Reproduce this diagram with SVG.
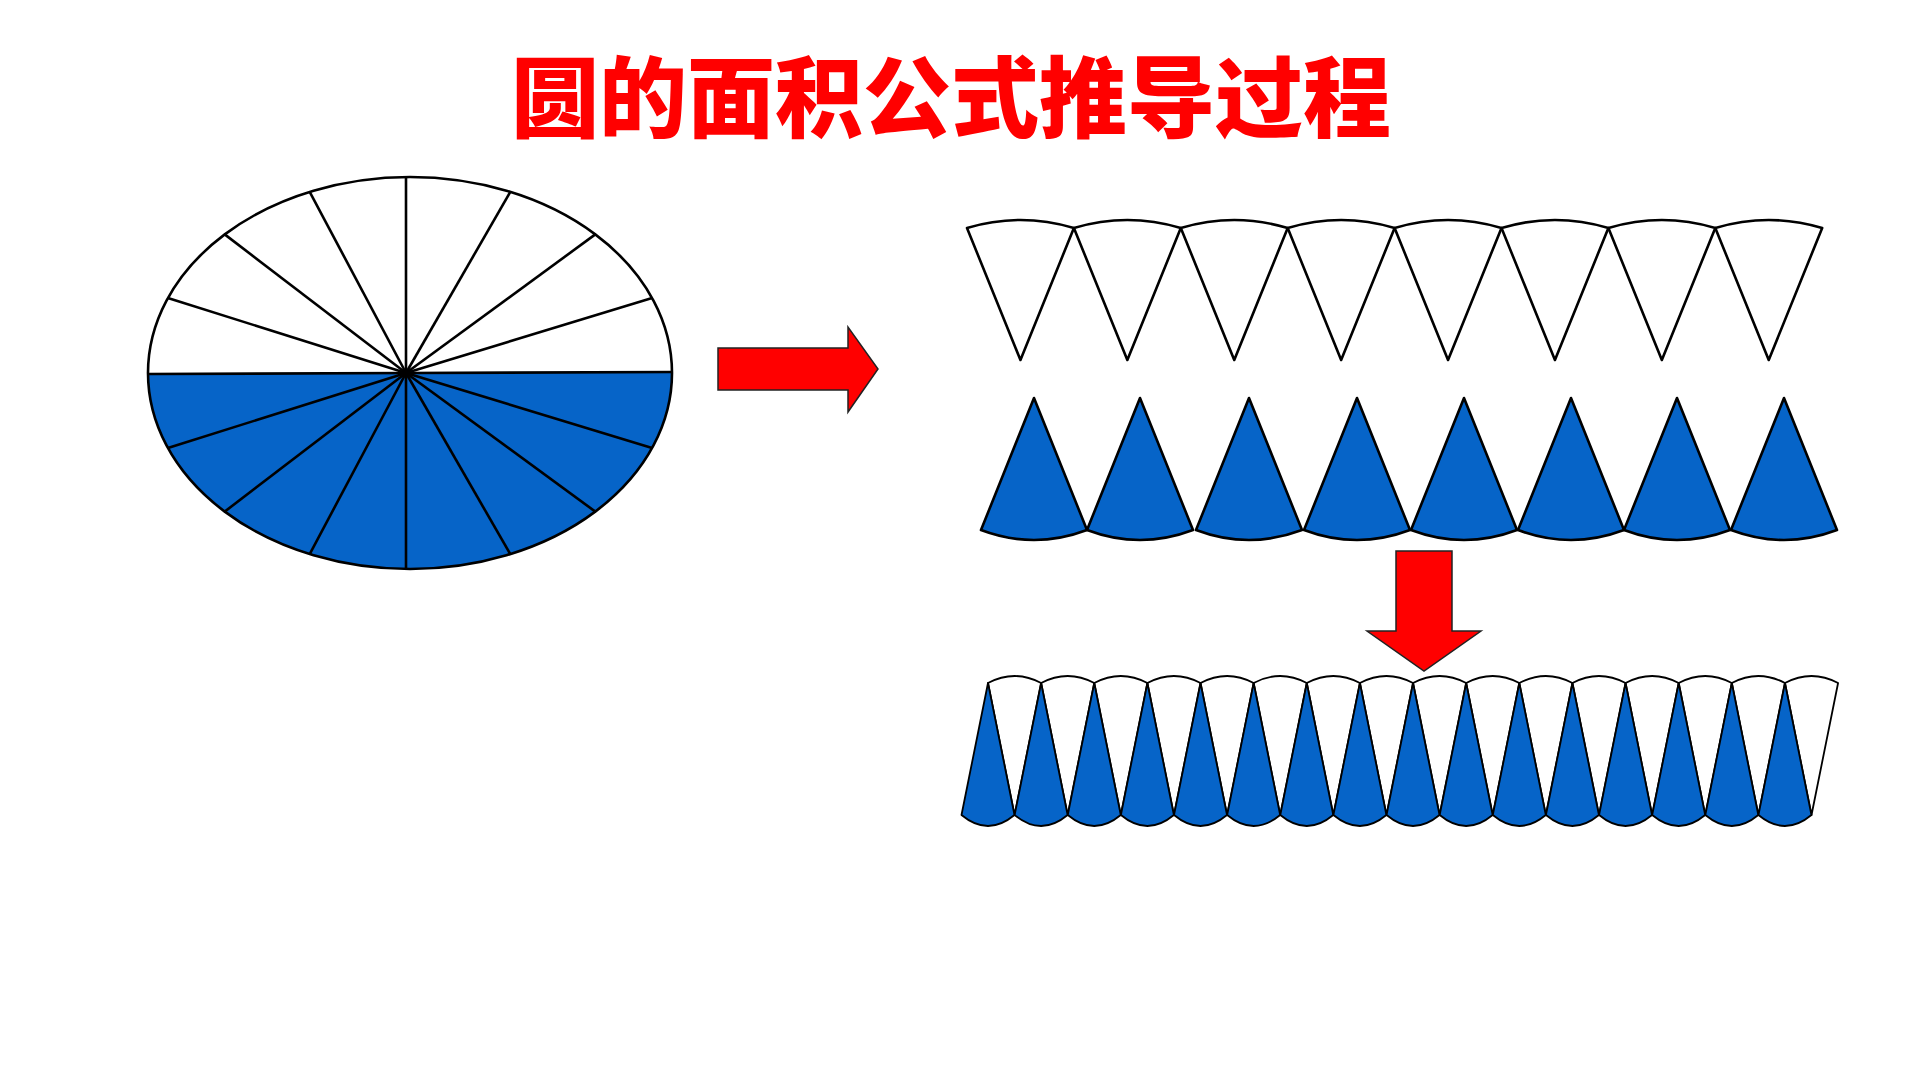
<svg xmlns="http://www.w3.org/2000/svg" xmlns:xlink="http://www.w3.org/1999/xlink" width="1920" height="1080" viewBox="0 0 1920 1080">
<style>
.title{font-family:"Noto Sans CJK SC","Noto Sans CJK JP",sans-serif;font-weight:900;font-size:88px;fill:#FF0000}
.line{stroke:#000;stroke-width:2.6;fill:none;stroke-linejoin:round}
.w{fill:#FFFFFF;stroke:#000;stroke-width:2.6;stroke-linejoin:round}
.b{fill:#0664C8;stroke:#000;stroke-width:2.6;stroke-linejoin:round}
.w3{fill:#FFFFFF;stroke:#000;stroke-width:1.8;stroke-linejoin:round}
.b3{fill:#0664C8;stroke:#000;stroke-width:1.8;stroke-linejoin:round}
.arrow{fill:#FF0000;stroke:#222;stroke-width:1.5;stroke-linejoin:miter}
</style>
<defs>
<path id="s1" d="M0,0 L53.45,132 L106.9,0 Q53.45,-16 0,0 Z"/>
<path id="s2" d="M0,0 L53,132 Q0,152 -53,132 Z"/>
<path id="s3w" d="M0,0 L26.56,132 L53.13,0 Q26.56,-14 0,0 Z"/>
<path id="s3b" d="M0,0 L26.5,132 Q0,154 -26.5,132 Z"/>
</defs>
<rect width="1920" height="1080" fill="#FFFFFF"/>

<g id="title">
<text class="title" x="951" y="130" text-anchor="middle">圆的面积公式推导过程</text>
</g>

<g id="circle">
<ellipse cx="410" cy="373" rx="262" ry="196" fill="#FFFFFF"/>
<path d="M148,374 L406,373 L672,372 A262,196 0 0 1 148,374 Z" fill="#0664C8"/>
<g class="line">
<line x1="406" y1="373" x2="148" y2="374"/>
<line x1="406" y1="373" x2="672" y2="372"/>
<line x1="406" y1="373" x2="652.1" y2="298"/>
<line x1="406" y1="373" x2="595.3" y2="234.4"/>
<line x1="406" y1="373" x2="510.3" y2="191.9"/>
<line x1="406" y1="373" x2="406" y2="177"/>
<line x1="406" y1="373" x2="309.7" y2="191.9"/>
<line x1="406" y1="373" x2="224.7" y2="234.4"/>
<line x1="406" y1="373" x2="167.9" y2="298"/>
<line x1="406" y1="373" x2="167.9" y2="448"/>
<line x1="406" y1="373" x2="224.7" y2="511.6"/>
<line x1="406" y1="373" x2="309.7" y2="554.1"/>
<line x1="406" y1="373" x2="406" y2="569"/>
<line x1="406" y1="373" x2="510.3" y2="554.1"/>
<line x1="406" y1="373" x2="595.3" y2="511.6"/>
<line x1="406" y1="373" x2="652.1" y2="448"/>
</g>
<ellipse class="line" cx="410" cy="373" rx="262" ry="196"/>
</g>

<g id="arrow-right">
<polygon class="arrow" points="718,348 848,348 848,327 878,369 848,412 848,390 718,390"/>
</g>

<g id="row1-white">
<use href="#s1" class="w" x="967" y="228"/>
<use href="#s1" class="w" x="1073.9" y="228"/>
<use href="#s1" class="w" x="1180.8" y="228"/>
<use href="#s1" class="w" x="1287.7" y="228"/>
<use href="#s1" class="w" x="1394.6" y="228"/>
<use href="#s1" class="w" x="1501.5" y="228"/>
<use href="#s1" class="w" x="1608.4" y="228"/>
<use href="#s1" class="w" x="1715.3" y="228"/>
</g>

<g id="row2-blue">
<use href="#s2" class="b" x="1034" y="398"/>
<use href="#s2" class="b" x="1140" y="398"/>
<use href="#s2" class="b" x="1249" y="398"/>
<use href="#s2" class="b" x="1357" y="398"/>
<use href="#s2" class="b" x="1464" y="398"/>
<use href="#s2" class="b" x="1571" y="398"/>
<use href="#s2" class="b" x="1677" y="398"/>
<use href="#s2" class="b" x="1784" y="398"/>
</g>

<g id="arrow-down">
<polygon class="arrow" points="1396,551 1452,551 1452,631 1481,631 1424,671 1367,631 1396,631"/>
</g>

<g id="row3">
<use href="#s3w" class="w3" x="988" y="683"/>
<use href="#s3w" class="w3" x="1041.13" y="683"/>
<use href="#s3w" class="w3" x="1094.26" y="683"/>
<use href="#s3w" class="w3" x="1147.39" y="683"/>
<use href="#s3w" class="w3" x="1200.52" y="683"/>
<use href="#s3w" class="w3" x="1253.65" y="683"/>
<use href="#s3w" class="w3" x="1306.78" y="683"/>
<use href="#s3w" class="w3" x="1359.91" y="683"/>
<use href="#s3w" class="w3" x="1413.04" y="683"/>
<use href="#s3w" class="w3" x="1466.17" y="683"/>
<use href="#s3w" class="w3" x="1519.3" y="683"/>
<use href="#s3w" class="w3" x="1572.43" y="683"/>
<use href="#s3w" class="w3" x="1625.56" y="683"/>
<use href="#s3w" class="w3" x="1678.69" y="683"/>
<use href="#s3w" class="w3" x="1731.82" y="683"/>
<use href="#s3w" class="w3" x="1784.95" y="683"/>
<use href="#s3b" class="b3" x="988" y="683"/>
<use href="#s3b" class="b3" x="1041.13" y="683"/>
<use href="#s3b" class="b3" x="1094.26" y="683"/>
<use href="#s3b" class="b3" x="1147.39" y="683"/>
<use href="#s3b" class="b3" x="1200.52" y="683"/>
<use href="#s3b" class="b3" x="1253.65" y="683"/>
<use href="#s3b" class="b3" x="1306.78" y="683"/>
<use href="#s3b" class="b3" x="1359.91" y="683"/>
<use href="#s3b" class="b3" x="1413.04" y="683"/>
<use href="#s3b" class="b3" x="1466.17" y="683"/>
<use href="#s3b" class="b3" x="1519.3" y="683"/>
<use href="#s3b" class="b3" x="1572.43" y="683"/>
<use href="#s3b" class="b3" x="1625.56" y="683"/>
<use href="#s3b" class="b3" x="1678.69" y="683"/>
<use href="#s3b" class="b3" x="1731.82" y="683"/>
<use href="#s3b" class="b3" x="1784.95" y="683"/>
</g>
</svg>
